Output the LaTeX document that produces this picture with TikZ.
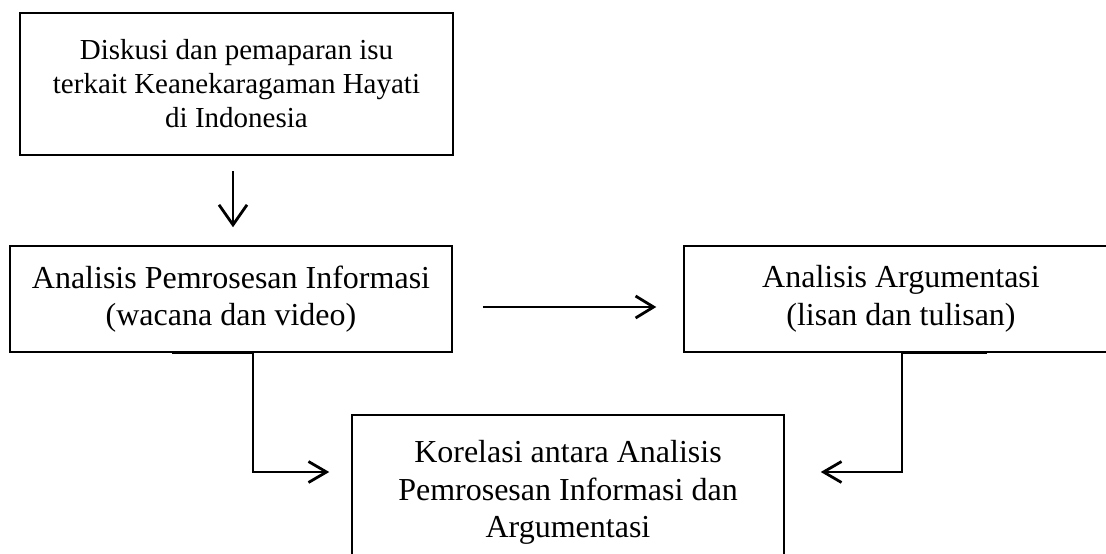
\documentclass[tikz,border=0pt]{standalone}
\usepackage{fontspec}
\setmainfont{Liberation Serif}
\usetikzlibrary{arrows.meta}
\begin{document}
\begin{tikzpicture}[x=1pt,y=-1pt,
  boxbase/.style={draw=black, rectangle, align=center, inner sep=0pt},
  bigtext/.style={font=\fontsize{32}{37.5}\selectfont},
  smalltext/.style={font=\fontsize{29}{34}\selectfont},
  arr/.style={line width=2.8pt, -{Straight Barb[length=18pt,width=22pt,line width=2.8pt]}},
  elbow/.style={line width=2.8pt, -{Straight Barb[length=18pt,width=21pt,line width=2.8pt]}}
]
\useasboundingbox (0,0) rectangle (1106,554);
\clip (0,0) rectangle (1106,554);

\node[boxbase, smalltext, line width=2.4pt, minimum width=433pt, minimum height=142pt] (b1) at (236.5,84)
  {Diskusi dan pemaparan isu\\terkait Keanekaragaman Hayati\\di Indonesia};
\node[boxbase, bigtext, line width=1.5pt, minimum width=442pt, minimum height=106pt] (b2) at (231,299)
  {Analisis Pemrosesan Informasi\\(wacana dan video)};
\node[boxbase, bigtext, line width=1.5pt, minimum width=434pt, minimum height=106pt] (b3) at (901,299)
  {Analisis Argumentasi\\(lisan dan tulisan)};
\node[boxbase, bigtext, line width=1.5pt, minimum width=432pt, minimum height=155pt] (b4) at (568,492.5)
  {Korelasi antara Analisis\\Pemrosesan Informasi dan\\Argumentasi};

\draw[arr, -{Straight Barb[length=20pt,width=28pt,line width=2.8pt]}]
  ([shift={(-3.5pt,-15pt)}]b1.south) -- ([shift={(-3.5pt,18pt)}]b1.south |- b2.north);
\draw[arr] ([shift={(30pt,-8pt)}]b2.east) -- ([shift={(-27pt,-8pt)}]b3.west);
\draw[elbow] ([xshift=-59pt]b2.south) -- ([xshift=22pt]b2.south) |- ([shift={(-22pt,20.5pt)}]b4.west);
\draw[elbow] ([xshift=86pt]b3.south) -- ([xshift=1pt]b3.south) |- ([shift={(36pt,20.5pt)}]b4.east);
\end{tikzpicture}
\end{document}
